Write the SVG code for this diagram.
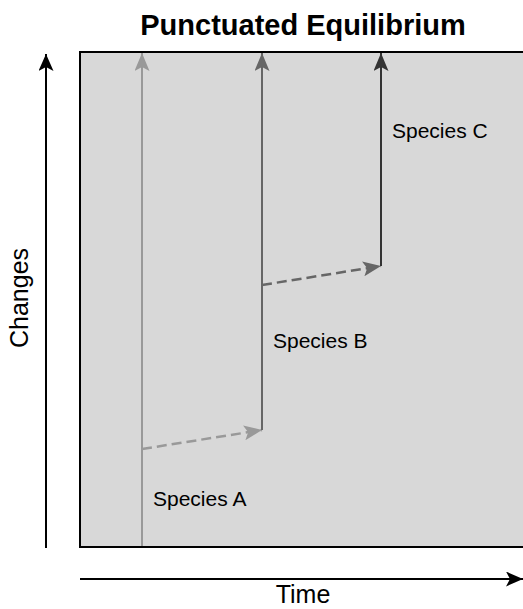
<svg xmlns="http://www.w3.org/2000/svg" width="523" height="609" viewBox="0 0 523 609">
<style>
text{font-family:"Liberation Sans",Arial,sans-serif;fill:#000}
.lbl{font-size:21px}
.ax{font-size:25px}
.axis{stroke:#000;stroke-width:2;fill:none}
.sp{stroke-width:2;fill:none}
.dash{stroke-width:2.5;fill:none;stroke-dasharray:10,5}
</style>
<defs>
<marker id="ma" viewBox="0 0 18 15" refX="18" refY="7.5" markerWidth="18" markerHeight="15" orient="auto" markerUnits="userSpaceOnUse"><path d="M0,0L18,7.5L0,15L4,7.5Z" fill="#999"/></marker>
<marker id="mb" viewBox="0 0 18 15" refX="18" refY="7.5" markerWidth="18" markerHeight="15" orient="auto" markerUnits="userSpaceOnUse"><path d="M0,0L18,7.5L0,15L4,7.5Z" fill="#666"/></marker>
<marker id="mc" viewBox="0 0 18 15" refX="18" refY="7.5" markerWidth="18" markerHeight="15" orient="auto" markerUnits="userSpaceOnUse"><path d="M0,0L18,7.5L0,15L4,7.5Z" fill="#333"/></marker>
<marker id="axm" viewBox="0 0 17 15" refX="17" refY="7.5" markerWidth="17" markerHeight="15" orient="auto" markerUnits="userSpaceOnUse"><path d="M0,0L17,7.5L0,15L4,7.5Z" fill="#000"/></marker>
</defs>
<text x="303" y="35" text-anchor="middle" style="font-size:29px;font-weight:bold">Punctuated Equilibrium</text>
<g id="plot">
<rect x="80" y="52" width="450" height="495" fill="#d8d8d8" stroke="#000" stroke-width="2"/>
</g>
<g id="axes">
<line class="axis" x1="46" y1="548" x2="46" y2="54" marker-end="url(#axm)"/>
<line class="axis" x1="80" y1="579" x2="523" y2="579" marker-end="url(#axm)"/>
<text class="ax" x="303" y="603" text-anchor="middle">Time</text>
<text class="ax" transform="translate(28,298) rotate(-90)" text-anchor="middle">Changes</text>
</g>
<g id="connectors">
<line class="dash" x1="142" y1="449" x2="262" y2="430" stroke="#999" marker-end="url(#ma)"/>
<line class="dash" x1="262" y1="285" x2="381" y2="266" stroke="#666" marker-end="url(#mb)"/>
</g>
<g id="speciesA">
<line class="sp" x1="142" y1="546" x2="142" y2="53" stroke="#999" marker-end="url(#ma)"/>
<text class="lbl" x="153" y="506">Species A</text>
</g>
<g id="speciesB">
<line class="sp" x1="262" y1="430" x2="262" y2="53" stroke="#666" marker-end="url(#mb)"/>
<text class="lbl" x="273" y="348">Species B</text>
</g>
<g id="speciesC">
<line class="sp" x1="381" y1="266" x2="381" y2="53" stroke="#333" marker-end="url(#mc)"/>
<text class="lbl" x="392" y="138">Species C</text>
</g>
</svg>
